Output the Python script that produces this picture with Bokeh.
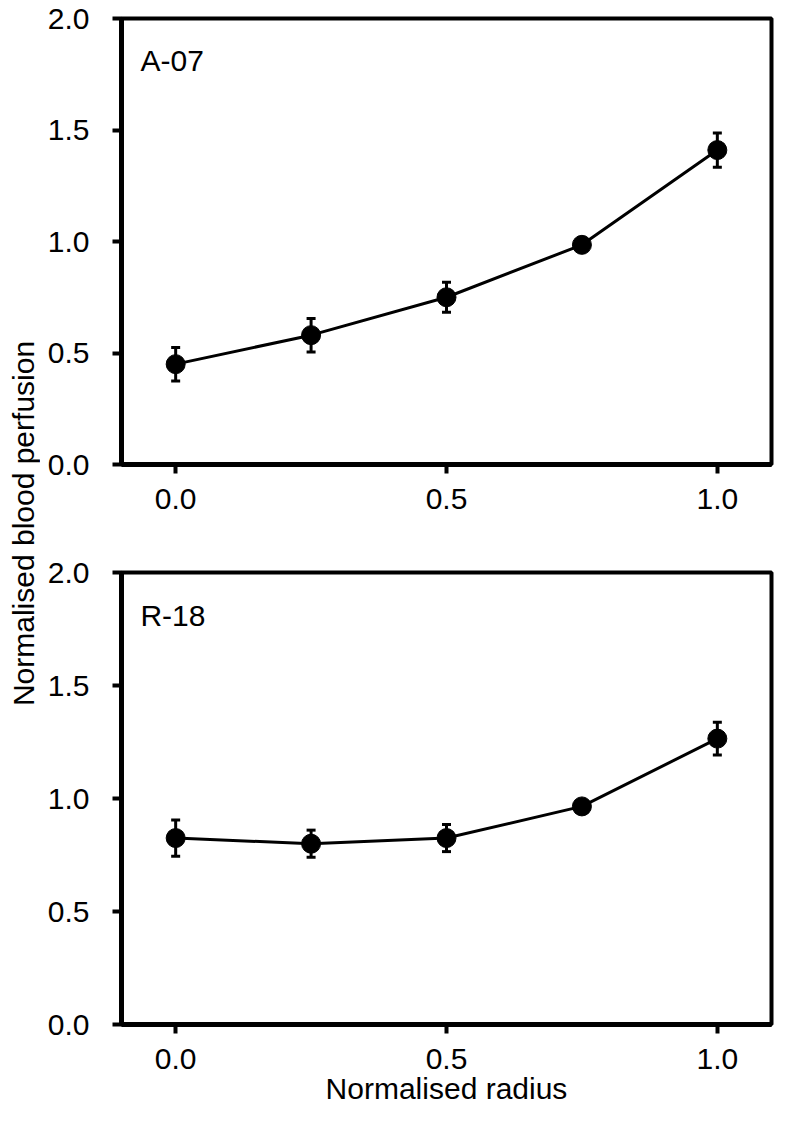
import numpy as np
from bokeh.plotting import figure
from bokeh.layouts import row, column
from bokeh.models import (Range1d, FixedTicker, PrintfTickFormatter, Whisker,
                          TeeHead, ColumnDataSource, Label)
from bokeh.embed import file_html
from bokeh.resources import INLINE

# ---- data ----
radius = [0.0, 0.25, 0.5, 0.75, 1.0]
a07_mean = [0.45, 0.58, 0.75, 0.985, 1.41]
a07_err = [0.075, 0.075, 0.067, 0.02, 0.077]
r18_mean = [0.825, 0.80, 0.825, 0.965, 1.265]
r18_err = [0.08, 0.06, 0.06, 0.015, 0.072]
x_ticks = [0.0, 0.5, 1.0]
y_ticks = [0.0, 0.5, 1.0, 1.5, 2.0]
panel_names = ["A-07", "R-18"]
x_title = "Normalised radius"
y_title = "Normalised blood perfusion"

FONT = "Liberation Sans"
FS = "30px"


def make_panel(name, mean, err, frame_h, top_border, bottom_border, show_xlabel):
    p = figure(frame_width=650, frame_height=frame_h,
               x_range=Range1d(-0.1, 1.1), y_range=Range1d(0, 2),
               output_backend="svg", toolbar_location=None,
               min_border_left=81, min_border_right=3,
               min_border_top=top_border, min_border_bottom=bottom_border)
    lower = [m - e for m, e in zip(mean, err)]
    upper = [m + e for m, e in zip(mean, err)]
    src = ColumnDataSource(dict(x=radius, y=mean, lower=lower, upper=upper))
    p.line("x", "y", source=src, line_color="black", line_width=3)
    w = Whisker(base="x", lower="lower", upper="upper", source=src,
                line_color="black", line_width=3,
                upper_head=TeeHead(size=9, line_width=3, line_color="black"),
                lower_head=TeeHead(size=9, line_width=3, line_color="black"))
    p.add_layout(w)
    p.scatter("x", "y", source=src, size=19, fill_color="black", line_color="black")

    p.xaxis.ticker = FixedTicker(ticks=x_ticks)
    p.yaxis.ticker = FixedTicker(ticks=y_ticks)
    p.axis.formatter = PrintfTickFormatter(format="%.1f")
    p.axis.axis_line_width = 5
    p.axis.axis_line_color = "black"
    p.axis.major_tick_line_width = 4
    p.axis.major_tick_line_color = "black"
    p.axis.major_tick_out = 9
    p.axis.major_tick_in = 0
    p.axis.minor_tick_line_color = None
    p.axis.major_label_text_font = FONT
    p.axis.major_label_text_font_size = FS
    p.axis.major_label_text_color = "black"
    p.yaxis.major_label_standoff = 23
    p.xaxis.major_label_standoff = 15
    p.grid.visible = False
    p.outline_line_color = "black"
    p.outline_line_width = 4
    p.outline_line_alpha = 1.0
    p.background_fill_color = "white"
    p.border_fill_color = "white"
    if show_xlabel:
        p.xaxis.axis_label = x_title
        p.xaxis.axis_label_text_font = FONT
        p.xaxis.axis_label_text_font_size = FS
        p.xaxis.axis_label_text_font_style = "normal"
        p.xaxis.axis_label_text_color = "black"
        p.xaxis.axis_label_standoff = 0
    p.add_layout(Label(x=-0.065, y=1.81, text=name, text_font=FONT,
                       text_font_size=FS, text_color="black",
                       text_baseline="alphabetic", text_align="left"))
    return p


top = make_panel(panel_names[0], a07_mean, a07_err, 446, 18, 60, False)
bottom = make_panel(panel_names[1], r18_mean, r18_err, 452, 48, 90, True)

lab = figure(width=40, height=1114, x_range=Range1d(0, 40),
             y_range=Range1d(1114, 0), x_axis_type=None, y_axis_type=None,
             output_backend="svg", toolbar_location=None, min_border=0)
lab.grid.visible = False
lab.outline_line_color = None
lab.add_layout(Label(x=23, y=523, text=y_title, angle=np.pi / 2,
                     text_font=FONT, text_font_size=FS, text_color="black",
                     text_align="center", text_baseline="alphabetic"))

p = row(lab, column(top, bottom))
open("out.html", "w").write(file_html(p, INLINE))
